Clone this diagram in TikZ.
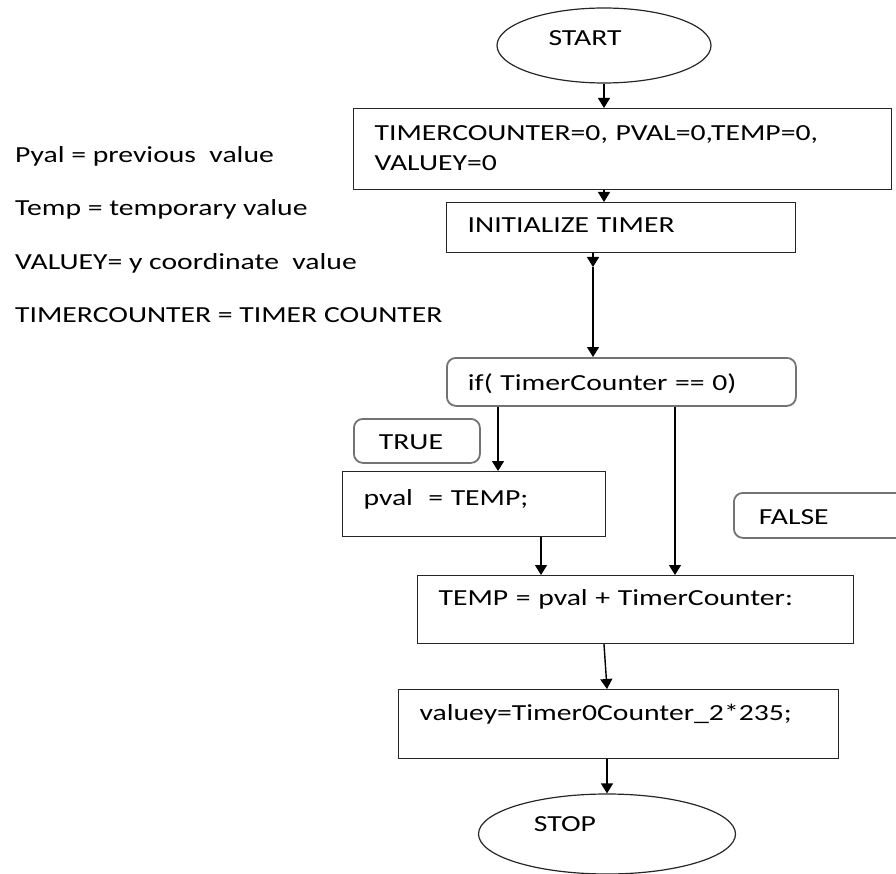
\documentclass[tikz,border=0pt]{standalone}
\usepackage{fontspec}
\setmainfont{Carlito}[FakeStretch=1.29]
\usepackage{tikz}
\usetikzlibrary{calc,shapes.geometric,arrows.meta}

\newcommand\flowfont{\fontsize{23pt}{30pt}\selectfont}

\tikzset{
	stepbox/.style={draw=black!85, line width=1.2pt, anchor=north west, inner xsep=21pt, inner ysep=0pt, align=left, font=\flowfont},
	roundbox/.style={stepbox, draw=black!55, line width=1.8pt, rounded corners=9pt},
	endbox/.style={ellipse, draw=black!85, line width=1.2pt, inner sep=0pt, font=\flowfont},
	boxdim/.style n args={3}{text width=#1, text height=#2, text depth=#3},
	flowarrow/.style={-{Triangle[width=12pt,length=10pt]}, line width=1.4pt},
	note/.style={anchor=base west, inner sep=0pt, font=\flowfont}
}

\begin{document}
\begin{tikzpicture}[x=1pt,y=-1pt]
	\useasboundingbox (0,0) rectangle (896,874);
	\clip (0,0) rectangle (896,874);

	% legend
	\node[note] (lpval) at (15,163) {Pyal = previous\ \ value};
	\node[note] (ltemp) at (15,216) {Temp = temporary value};
	\node[note] (lvaluey) at (15,270) {VALUEY= y coordinate\ \ value};
	\node[note] (lcounter) at (15,323) {TIMERCOUNTER = TIMER COUNTER};

	% flow
	\node[endbox, minimum width=214pt, minimum height=75pt,
		label={[font=\flowfont, xshift=-19pt, yshift=7pt]center:START}] (start) at (604,45.5) {};
	\node[stepbox, boxdim={496pt}{32.4pt}{48.6pt}] (vars) at (353,108)
		{TIMERCOUNTER=0, PVAL=0,TEMP=0,\\VALUEY=0};
	\node[stepbox, boxdim={307pt}{30.4pt}{19.6pt}] (timer) at (446,202) {INITIALIZE TIMER};
	\node[roundbox, boxdim={307pt}{32.4pt}{15.6pt}] (ifbox) at (446,357) {if( TimerCounter == 0)};
	\node[roundbox, boxdim={84pt}{30.4pt}{13.6pt}] (truebox) at (353,418) {\hspace*{4pt}TRUE};
	\node[stepbox, boxdim={221pt}{33.4pt}{31.6pt}] (pval) at (342,471) {pval\ \ = TEMP;};
	\node[roundbox, boxdim={158pt}{31.4pt}{13.6pt}] (falsebox) at (733,492) {\hspace*{4pt}FALSE};
	\node[stepbox, boxdim={394pt}{29.4pt}{38.6pt}] (temp) at (417,575) {TEMP = pval + TimerCounter:};
	\node[stepbox, boxdim={398pt}{30.4pt}{38.6pt}] (valuey) at (398,689) {valuey=Timer0Counter\_2*235;};
	\node[endbox, minimum width=257pt, minimum height=80pt,
		label={[font=\flowfont, xshift=-42pt, yshift=10pt]center:STOP}] (stop) at (607,834) {};

	\coordinate (timerout) at (593,267);
	\coordinate (truein) at ([xshift=52pt]ifbox.south west);
	\coordinate (falsein) at ([xshift=229pt]ifbox.south west);
	\coordinate (pvalout) at ([xshift=199pt]pval.south west);
	\coordinate (tempout) at ([xshift=187pt]temp.south west);

	\draw[flowarrow] (start.south) -- (start.south |- vars.north);
	\draw[flowarrow] (vars.south -| start.south) -- (timer.north -| start.south);
	\draw[flowarrow] (timer.south -| timerout) -- (timerout);
	\draw[flowarrow] (timerout) -- (timerout |- ifbox.north);
	\draw[flowarrow] (truein) -- (truein |- pval.north);
	\draw[flowarrow] (falsein) -- (falsein |- temp.north);
	\draw[flowarrow] (pvalout) -- (pvalout |- temp.north);
	\draw[flowarrow] (tempout) -- ([xshift=209pt]valuey.north west);
	\draw[flowarrow] (stop.north |- valuey.south) -- (stop.north);
\end{tikzpicture}
\end{document}
